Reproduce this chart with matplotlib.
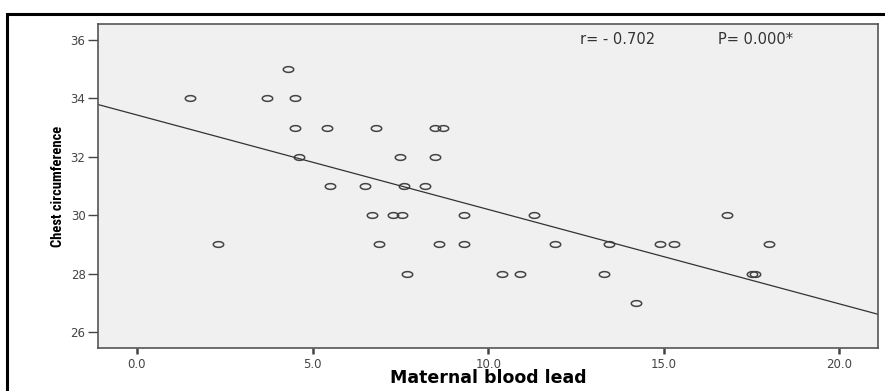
import numpy as np
import matplotlib
matplotlib.use('Agg')
import matplotlib.pyplot as plt
from matplotlib.path import Path
from matplotlib.patches import Rectangle
from matplotlib import font_manager

# maternal blood lead vs chest circumference
lead = [1.5, 2.3, 3.7, 4.3, 4.5, 4.5, 4.6, 5.4, 5.5, 6.5, 6.7, 6.8, 6.9, 7.3,
        7.5, 7.55, 7.6, 7.7, 8.2, 8.5, 8.5, 8.7, 8.6, 9.3, 9.3, 10.4, 10.9,
        11.3, 11.9, 13.3, 13.45, 14.2, 14.9, 15.3, 16.8, 17.5, 17.6, 18.0]
chest = [34, 29, 34, 35, 34, 33, 32, 33, 31, 31, 30, 33, 29, 30,
         32, 30, 31, 28, 31, 33, 32, 33, 29, 30, 29, 28, 28,
         30, 29, 28, 29, 27, 29, 29, 30, 28, 28, 29]
xticks = [0, 5, 10, 15, 20]
yticks = [26, 28, 30, 32, 34, 36]
r_text = 'r= - 0.702'
p_text = 'P= 0.000*'

# narrow font for the y label, if there is one
names = {f.name for f in font_manager.fontManager.ttflist}
narrow = None
for cand in ['Liberation Sans Narrow', 'DejaVu Sans Condensed', 'Roboto Condensed',
             'Open Sans Condensed']:
    if cand in names:
        narrow = cand
        break

fig = plt.figure(figsize=(8.85, 3.91), dpi=100)
ax = fig.add_axes([98 / 885, 1 - 348 / 391, 780 / 885, 324 / 391])
ax.set_facecolor('#f0f0f0')

# squashed open circles like the spss output
t = np.linspace(0, 2 * np.pi, 60)
ell = Path(np.column_stack([np.cos(t), 0.55 * np.sin(t)]))
ax.plot(lead, chest, linestyle='none', marker=ell, markersize=7.5,
        markerfacecolor='none', markeredgecolor='#444444', markeredgewidth=1.1)

xlim = (-1.11, 21.1)
slope, icpt = np.polyfit(lead, chest, 1)
xs = np.array(xlim)
ax.plot(xs, icpt + slope * xs, color='#333333', lw=0.9)

ax.set_xlim(xlim)
ax.set_ylim(25.45, 36.55)
ax.set_xticks(xticks)
ax.set_xticklabels(['%.1f' % v for v in xticks])
ax.set_yticks(yticks)
ax.tick_params(axis='x', direction='out', length=4, width=1.8, color='#444444',
               labelsize=8.5, labelcolor='#444444', pad=3)
ax.tick_params(axis='y', direction='out', length=7, width=1, color='#444444',
               labelsize=8.5, labelcolor='#444444', pad=2)
for s in ax.spines.values():
    s.set_color('#555555')
    s.set_linewidth(1.2)

ax.set_xlabel('Maternal blood lead', fontsize=12.5, fontweight='bold', labelpad=-1)
if narrow:
    ax.set_ylabel('Chest circumference', fontsize=10.5, fontweight='bold',
                  family=[narrow, 'DejaVu Sans'], labelpad=4)
else:
    ax.set_ylabel('Chest circumference', fontsize=8, fontweight='bold',
                  labelpad=6)

fig.text(580 / 885, 1 - 44 / 391, r_text, fontsize=10.5, color='#333333')
fig.text(718 / 885, 1 - 44 / 391, p_text, fontsize=10.5, color='#333333')

# outer frame
fig.patches.append(Rectangle((7 / 885, -0.1), 1.2, 1 - 14 / 391 + 0.1,
                             transform=fig.transFigure, fill=False,
                             edgecolor='black', lw=2.2))

fig.savefig('out.png', dpi=100)
